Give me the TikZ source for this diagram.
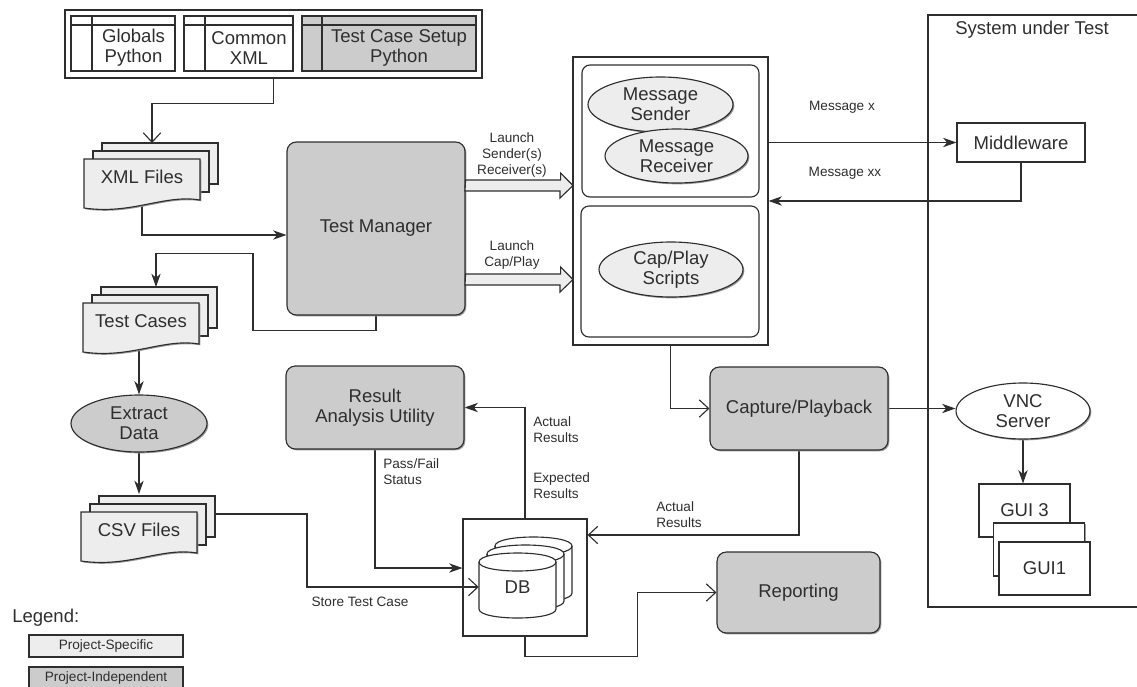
\documentclass[tikz,border=0pt]{standalone}
\usepackage{fontspec}
\setmainfont{Liberation Sans}
\usetikzlibrary{arrows.meta,shapes.geometric,shadows,calc}
\pgfdeclarelayer{bg}
\pgfsetlayers{bg,main}

\definecolor{indepfill}{gray}{0.80}
\definecolor{specfill}{gray}{0.93}
\definecolor{ink}{gray}{0.18}

\tikzset{
  big/.style={font=\fontsize{13.9}{15}\selectfont, text=ink},
  small/.style={font=\fontsize{10.2}{12}\selectfont, text=ink},
  outline/.style={draw=ink, line width=0.85pt},
  shadowed/.style={drop shadow={shadow xshift=1pt, shadow yshift=-1pt, fill=black!40, opacity=1}},
  indepbox/.style={outline, shadowed, fill=indepfill, rounded corners=7pt, big, align=center},
  plainbox/.style={outline, shadowed, fill=white, big, align=center},
  oval/.style={ellipse, outline, shadowed, big, align=center, inner sep=0pt},
  conn/.style={draw=ink, line width=0.85pt},
  fillarrow/.style={conn, -{Stealth[length=10pt,width=7pt,inset=3pt]}},
  openarrow/.style={conn, -{Straight Barb[length=7pt,width=13pt]}},
  blockarrow/.style={draw=ink, line width=0.85pt, fill=specfill},
  note/.style={small, align=left, anchor=west, inner sep=0pt},
  legendbox/.style={outline, shadowed, small, minimum width=115.5pt, minimum height=16.5pt, inner sep=0pt},
}

% a stack of three pages; the front page has a wavy lower edge
\newcommand{\pagestack}[5]{%
  \foreach \dx/\dy in {18/-16,9/-8}{
    \filldraw[outline, fill=#4] ({#2+\dx},{#3+\dy}) rectangle ++(116,41);
  }
  \filldraw[outline, shadowed, fill=#4] ({#2},{#3+49}) -- ({#2},{#3}) -- ({#2+116},{#3})
    -- ({#2+116},{#3+41}) .. controls ({#2+80},{#3+35}) and ({#2+48},{#3+56}) .. ({#2},{#3+49}) -- cycle;
  \node[big] (#1) at ({#2+58},{#3+18}) {#5};
}

% one database drum: left x, centre of top ellipse, centre of bottom ellipse
\newcommand{\drum}[3]{%
  \filldraw[outline, fill=white] (#1,#2) -- (#1,#3) .. controls (#1,{#3+12}) and ({#1+77},{#3+12}) .. ({#1+77},#3)
    -- ({#1+77},#2) .. controls ({#1+77},{#2-12}) and (#1,{#2-12}) .. (#1,#2) -- cycle;
  \draw[outline] (#1,#2) .. controls (#1,{#2+12}) and ({#1+77},{#2+12}) .. ({#1+77},#2);
}

\begin{document}
\begin{tikzpicture}[x=0.75pt,y=-0.75pt]
\useasboundingbox (0,0) rectangle (1137,686);
\clip (0,0) rectangle (1137,686);

% ---------- configuration sources ----------
\node[outline, minimum width=312.75pt, minimum height=51pt] (cfg) at (273.5,44) {};
\draw[outline] (71,16) rectangle (175,71) (71,25) -- (175,25) (92,16) -- (92,71);
\draw[outline] (184,16) rectangle (293,71) (184,25) -- (293,25) (205,16) -- (205,71);
\filldraw[outline, fill=indepfill] (302,16) rectangle (476,71);
\draw[outline] (302,25) -- (476,25) (322,16) -- (322,71);
\node[big, align=center] (glob) at (133.5,48) {Globals\\Python};
\node[big, align=center] (cxml) at (249,48) {Common\\XML};
\node[big, align=center] (tcsp) at (399,48) {Test Case Setup\\Python};

% ---------- file stacks and data extraction ----------
\pagestack{xml}{84}{159}{specfill}{XML Files}
\pagestack{tcase}{83}{303}{specfill}{Test Cases}
\pagestack{csv}{81}{512}{specfill}{CSV Files}
\node[oval, fill=indepfill, minimum width=102pt, minimum height=42.75pt] (ext) at (139,423.5) {Extract\\Data};

% ---------- tools ----------
\node[indepbox, minimum width=133.5pt, minimum height=129.75pt] (tm) at (376,228.5) {Test Manager};
\node[indepbox, minimum width=133.5pt, minimum height=62.25pt] (ra) at (375,407.5) {Result\\Analysis Utility};
\node[indepbox, minimum width=133.5pt, minimum height=62.25pt] (cap) at (799,408.5) {Capture/Playback};
\node[indepbox, minimum width=122.25pt, minimum height=60.75pt] (rep) at (798.5,592.5) {Reporting};

% ---------- launched scripts ----------
\node[outline, minimum width=146.25pt, minimum height=216pt] (cont) at (670.5,201) {};
\draw[outline, rounded corners=6pt] (582,65) rectangle (759,197);
\draw[outline, rounded corners=6pt] (581,206) rectangle (759,337);
\node[oval, fill=specfill, minimum width=108.75pt, minimum height=41.25pt] (snd) at (660.5,104.5) {Message\\Sender};
\node[oval, fill=specfill, minimum width=107.25pt, minimum height=40.5pt] (rcv) at (676.5,156) {Message\\Receiver};
\node[oval, fill=specfill, minimum width=108pt, minimum height=41.25pt] (cps) at (671,269.5) {Cap/Play\\Scripts};

% launch arrows
\coordinate (la1) at (573,185.5);
\coordinate (la2) at (573,279.5);
\draw[blockarrow] (tm.east |- la1) ++(0,-5.5) -- ++(95,0) -- ++(0,-7) -- (la1) -- ++(-13,12.5) -- ++(0,-7) -- ++(-95,0) -- cycle;
\draw[blockarrow] (tm.east |- la2) ++(0,-5.5) -- ++(95,0) -- ++(0,-7) -- (la2) -- ++(-13,12.5) -- ++(0,-7) -- ++(-95,0) -- cycle;
\node[small, align=center] (l1) at (512,155) {Launch\\Sender(s)\\Receiver(s)};
\node[small, align=center] (l2) at (512,255) {Launch\\Cap/Play};

% ---------- system under test ----------
\node[outline, minimum width=166.5pt, minimum height=444pt] (sut) at (1039,311) {};
\node[big] (sutt) at (1032,30) {System under Test};
\node[plainbox, minimum width=96pt, minimum height=29.25pt] (mw) at (1021,142.5) {Middleware};
\node[oval, fill=white, minimum width=100.5pt, minimum height=42pt] (vnc) at (1023,411) {VNC\\Server};
\node[plainbox, minimum width=68.25pt, minimum height=39.75pt] (g3) at (1024.5,510.5) {GUI 3};
\node[plainbox, minimum width=68.25pt, minimum height=39.75pt] (g2) at (1039,549.5) {};
\node[plainbox, minimum width=68.25pt, minimum height=39.75pt] (g1) at (1044.5,568.5) {GUI1};

% ---------- database ----------
\node[outline, minimum width=93pt, minimum height=87.75pt] (db) at (525,577.5) {};
\drum{495}{546}{593}
\drum{487}{554}{601}
\drum{479}{562}{609}
\node[big, minimum width=57.75pt, inner sep=0pt] (dbc) at (517.5,587) {DB};

% ---------- connector labels ----------
\node[small] (msx) at (842,107) {Message x};
\node[small] (msxx) at (845,173) {Message xx};
\node[small] (stc) at (360,602) {Store Test Case};
\node[note] (pf) at (383,471.5) {Pass/Fail\\Status};
\node[note] (ar1) at (533,429.5) {Actual\\Results};
\node[note] (er) at (533,486) {Expected\\Results};
\node[note] (ar2) at (656,514.5) {Actual\\Results};

% ---------- legend ----------
\node[big, anchor=west, inner sep=0pt] (leg) at (12,618) {Legend:};
\node[legendbox, fill=specfill] (lg1) at (106,646) {Project-Specific};
\node[legendbox, fill=indepfill] (lg2) at (106,678) {Project-Independent};

% ---------- connectors ----------
\begin{pgfonlayer}{bg}
\coordinate (xmlin) at (152,143);
\coordinate (tcin) at (156,287);
\coordinate (csvin) at (139,494);
\draw[openarrow] (cfg.south) -- ++(0,25) -| (xmlin);
\draw[fillarrow] (xml) |- ($(tm.west)+(0,6.5)$);
\draw[fillarrow] (tm.south) -- ++(0,15) -| ++(-123,-77) -| (tcin);
\draw[fillarrow] (ext.north |- tcase) -- (ext.north);
\draw[fillarrow] (ext.south) -- (csvin);
\draw[openarrow] ($(csv)+(0,-16)$) -| ++(168,73) -- (dbc.west);
\draw[fillarrow] (ra.south) |- ($(db.west)+(0,-9.5)$);
\draw[fillarrow] (db.north) |- (ra.east);
\draw[openarrow] (cap.south) |- ($(db.east)+(0,-42.5)$);
\draw[openarrow] (db.south) -- ++(0,20) -| ($(rep.west)+(-79,0)$) -- (rep.west);
\draw[openarrow] (cont.south) |- (cap.west);
\draw[fillarrow] (cap.east) -- (cap.east -| vnc.west);
\draw[fillarrow] (vnc.south) -- (vnc.south |- g3.north);
\draw[fillarrow] (cont.east |- mw.west) -- (mw.west);
\draw[fillarrow] (mw.south) |- (cont.east);
\end{pgfonlayer}
\end{tikzpicture}
\end{document}
